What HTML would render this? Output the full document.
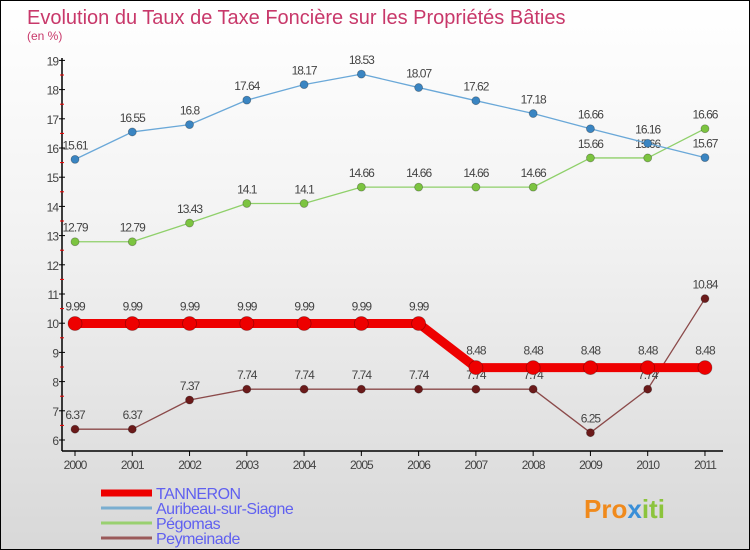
<!DOCTYPE html>
<html><head><meta charset="utf-8"><style>
body{margin:0}
#c{width:748px;height:548px;border:1px solid #000;background:linear-gradient(#fff 0%,#f3f3f3 40%,#d8d8d8 100%);position:relative;font-family:"Liberation Sans",sans-serif}
</style></head><body>
<div id="c">
<svg id="s" width="748" height="548" xmlns="http://www.w3.org/2000/svg" style="position:absolute;left:0;top:0">
<text x="26" y="23" font-size="20" fill="#c8386a">Evolution du Taux de Taxe Foncière sur les Propriétés Bâties</text>
<text x="26" y="39" font-size="12" fill="#c8386a">(en %)</text>
<g id="axes"></g><g id="series"></g><g id="legend"></g>
<text x="583" y="517" font-size="26" font-weight="bold" fill="#f08a1c">Pro<tspan fill="#3a8fd8">x</tspan><tspan fill="#8cc43c">iti</tspan></text>
</svg></div>
<script>
const years=[2000,2001,2002,2003,2004,2005,2006,2007,2008,2009,2010,2011];
const tanneron=[9.99,9.99,9.99,9.99,9.99,9.99,9.99,8.48,8.48,8.48,8.48,8.48];
const auribeau=[15.61,16.55,16.8,17.64,18.17,18.53,18.07,17.62,17.18,16.66,16.16,15.67];
const pegomas=[12.79,12.79,13.43,14.1,14.1,14.66,14.66,14.66,14.66,15.66,15.66,16.66];
const peymeinade=[6.37,6.37,7.37,7.74,7.74,7.74,7.74,7.74,7.74,6.25,7.74,10.84];
const yTicks=[6,7,8,9,10,11,12,13,14,15,16,17,18,19];
const NS="http://www.w3.org/2000/svg";
const xs=i=>74+i*57.27, ys=v=>439-(v-6)*29.2;
function mk(t,a,p){const e=document.createElementNS(NS,t);for(const k in a)e.setAttribute(k,a[k]);p.appendChild(e);return e;}
const ax=document.getElementById('axes');
let l=mk('line',{x1:61,y1:57,x2:61,y2:450,stroke:'#000','stroke-width':1.5},ax);

l=mk('line',{x1:61,y1:450,x2:722,y2:450,stroke:'#000','stroke-width':1.5},ax);

yTicks.forEach(v=>{const y=ys(v);
 mk('line',{x1:58,y1:y,x2:64,y2:y,stroke:'#000'},ax);
 if(v<19)mk('line',{x1:59,y1:y-14.6,x2:63,y2:y-14.6,stroke:'#e00'},ax);
 const t=mk('text',{x:57,y:y+5,'font-size':12,fill:'#444','text-anchor':'end','letter-spacing':'-1'},ax);t.textContent=v;
 });
years.forEach((yr,i)=>{const x=xs(i);
 mk('line',{x1:x,y1:450,x2:x,y2:455,stroke:'#000'},ax);
 const t=mk('text',{x:x,y:468,'font-size':12,fill:'#444','text-anchor':'middle','letter-spacing':'-1'},ax);t.textContent=yr;
 });
const sg=document.getElementById('series');
function series(name,data,color,dot,w,r){
 const g=mk('g',{},sg);
 mk('polyline',{points:data.map((v,i)=>xs(i)+','+ys(v)).join(' '),fill:'none',stroke:color,'stroke-width':w,'stroke-linejoin':'round'},g);
 data.forEach((v,i)=>{const c=mk('circle',{cx:xs(i),cy:ys(v),r:r,fill:dot,stroke:'rgba(0,0,0,0.3)','stroke-width':0.8},g);
  
  const t=mk('text',{x:xs(i),y:ys(v)-(r+6),'font-size':12,fill:'#444','text-anchor':'middle','letter-spacing':'-1'},g);t.textContent=v;});
}
series('peymeinade',peymeinade,'#8b4a4a','#6b1a1a',1.3,4);
series('pegomas',pegomas,'#8fd06a','#7cc440',1.3,4);
series('auribeau',auribeau,'#6aa8d8','#3a85c2',1.3,4);
series('tanneron',tanneron,'#ee0000','#ee0000',9,7);
const lg=document.getElementById('legend');
[['TANNERON','#ee0000',7],['Auribeau-sur-Siagne','#7aaed0',3],['Pégomas','#99d070',3],['Peymeinade','#9a5a5a',3]].forEach((e,i)=>{
 const y=492+i*15;const g=mk('g',{},lg);
 
 mk('line',{x1:100,y1:y,x2:151,y2:y,stroke:e[1],'stroke-width':e[2]},g);
 const t=mk('text',{x:155,y:y+6,'font-size':16,fill:'#6060f0','letter-spacing':'-0.5'},g);t.textContent=e[0];});
</script>
</body></html>
